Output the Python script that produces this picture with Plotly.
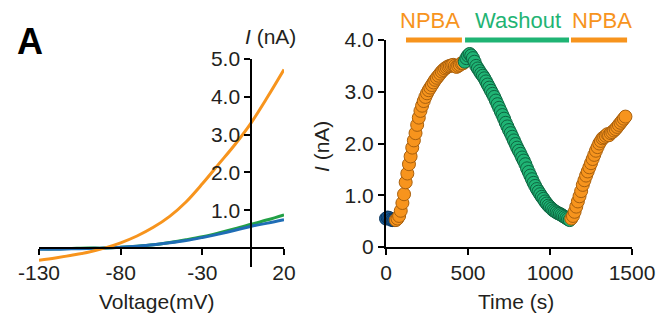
import plotly.graph_objects as go

# ---------------- Left panel: I-V curves ----------------
voltage_mv = [-130, -120, -110, -100, -90, -80, -70, -60, -50, -40, -30, -20, -10, 0, 10, 20]
iv_npba = [-0.32, -0.26, -0.19, -0.11, 0.0, 0.14, 0.32, 0.55, 0.84, 1.22, 1.70, 2.22, 2.74, 3.32, 4.0, 4.72]
iv_control = [-0.03, -0.03, -0.02, -0.01, 0.0, 0.02, 0.05, 0.09, 0.14, 0.2, 0.28, 0.37, 0.47, 0.58, 0.66, 0.75]
iv_washout = [-0.02, -0.02, -0.01, 0.0, 0.0, 0.02, 0.05, 0.09, 0.15, 0.22, 0.30, 0.40, 0.51, 0.63, 0.75, 0.88]
iv_xticks = [-130, -80, -30, 20]
iv_xticktext = ["-130", "-80", "-30", "20"]
iv_yticks = [1, 2, 3, 4, 5]
iv_yticktext = ["1.0", "2.0", "3.0", "4.0", "5.0"]

# ---------------- Right panel: time course ----------------
t_control = [0, 10, 20, 30, 40, 50]
i_control = [0.55, 0.57, 0.56, 0.53, 0.52, 0.52]

t_npba1 = [60, 70, 80, 90, 100, 110, 120, 130, 140, 150, 160, 170, 180, 190, 200,
           210, 220, 230, 240, 250, 260, 270, 280, 290, 300, 310, 320, 330, 340, 350,
           360, 370, 380, 390, 400, 410, 420, 430, 440, 450, 460, 470]
i_npba1 = [0.52, 0.55, 0.6, 0.7, 0.85, 1.02, 1.25, 1.42, 1.6, 1.75, 1.92, 2.06, 2.2, 2.36, 2.5,
           2.63, 2.73, 2.82, 2.9, 2.97, 3.03, 3.08, 3.13, 3.18, 3.23, 3.27, 3.31, 3.35, 3.39, 3.42,
           3.45, 3.47, 3.49, 3.5, 3.51, 3.52, 3.5, 3.48, 3.5, 3.52, 3.55, 3.55]

t_wash = [480, 490, 500, 510, 520, 530, 540, 550, 560, 570, 580, 590, 600, 610, 620,
          630, 640, 650, 660, 670, 680, 690, 700, 710, 720, 730, 740, 750, 760, 770,
          780, 790, 800, 810, 820, 830, 840, 850, 860, 870, 880, 890, 900, 910, 920,
          930, 940, 950, 960, 970, 980, 990, 1000, 1010, 1020, 1030, 1040, 1050, 1060,
          1070, 1080, 1090, 1100, 1110, 1120]
i_wash = [3.58, 3.65, 3.7, 3.73, 3.7, 3.65, 3.58, 3.5, 3.45, 3.4, 3.35, 3.31, 3.26, 3.2, 3.14,
          3.08, 3.02, 2.96, 2.9, 2.83, 2.76, 2.69, 2.62, 2.55, 2.48, 2.4, 2.33, 2.26, 2.2, 2.13,
          2.06, 1.99, 1.92, 1.86, 1.8, 1.73, 1.67, 1.6, 1.52, 1.45, 1.38, 1.31, 1.24, 1.18, 1.12,
          1.07, 1.02, 0.97, 0.93, 0.88, 0.84, 0.8, 0.77, 0.74, 0.71, 0.69, 0.67, 0.65, 0.64,
          0.62, 0.6, 0.58, 0.56, 0.54, 0.52]

t_npba2 = [1130, 1140, 1150, 1160, 1170, 1180, 1190, 1200, 1210, 1220, 1230, 1240, 1250,
           1260, 1270, 1280, 1290, 1300, 1310, 1320, 1330, 1340, 1350, 1360, 1370, 1380,
           1390, 1400, 1410, 1420, 1430, 1440, 1450, 1460]
i_npba2 = [0.55, 0.6, 0.68, 0.78, 0.88, 0.98, 1.08, 1.2, 1.29, 1.38, 1.46, 1.54, 1.62,
           1.7, 1.78, 1.86, 1.93, 2.0, 2.05, 2.1, 2.12, 2.15, 2.18, 2.16, 2.2, 2.22,
           2.25, 2.28, 2.32, 2.36, 2.4, 2.44, 2.48, 2.52]

tc_xticks = [0, 500, 1000, 1500]
tc_yticks = [0, 1, 2, 3, 4]
tc_yticktext = ["0", "1.0", "2.0", "3.0", "4.0"]

# application periods (start, end, label, colour key)
periods = [(122, 463, "NPBA", "orange"), (482, 1116, "Washout", "green"), (1128, 1470, "NPBA", "orange")]
period_label_x = [268, 805, 1317]

ORANGE = "#F7941D"
GREEN_L = "#22A046"
GREEN_M = "#1FB474"
BLUE = "#1F6DB5"
BLUE_M = "#1A5E9C"
TXT = "#231F20"
colors = {"orange": ORANGE, "green": GREEN_M}

FONT = "Liberation Sans, Arial, sans-serif"
W, H = 668, 329

def px_x(p):
    return p / W

def px_y(p):
    return 1 - p / H

fig = go.Figure()

# left panel traces
fig.add_trace(go.Scatter(x=voltage_mv, y=iv_washout, mode="lines", line=dict(color=GREEN_L, width=3, shape="spline"),
                         xaxis="x", yaxis="y", showlegend=False))
fig.add_trace(go.Scatter(x=voltage_mv, y=iv_control, mode="lines", line=dict(color=BLUE, width=3, shape="spline"),
                         xaxis="x", yaxis="y", showlegend=False))
fig.add_trace(go.Scatter(x=voltage_mv, y=iv_npba, mode="lines", line=dict(color=ORANGE, width=3, shape="spline"),
                         xaxis="x", yaxis="y", showlegend=False))

# right panel traces
def add_markers(t, i, fill, edge):
    fig.add_trace(go.Scatter(x=t, y=i, mode="markers", cliponaxis=False,
                             marker=dict(size=13, color=fill, line=dict(color=edge, width=1)),
                             xaxis="x2", yaxis="y2", showlegend=False))

add_markers(t_control, i_control, BLUE_M, "#0B365E")
add_markers(t_npba1, i_npba1, ORANGE, "#A8600E")
add_markers(t_wash, i_wash, GREEN_M, "#0D6440")
add_markers(t_npba2, i_npba2, ORANGE, "#A8600E")

# geometry
lx0, lx1 = px_x(39), px_x(284)
ly0, ly1 = px_y(267), px_y(59)
l_yrange = [-0.5, 5.0]
l_xrange = [-130, 20]
yaxis_pos = lx0 + (0 - l_xrange[0]) / (l_xrange[1] - l_xrange[0]) * (lx1 - lx0)
xaxis_pos = ly0 + (0 - l_yrange[0]) / (l_yrange[1] - l_yrange[0]) * (ly1 - ly0)

rx0, rx1 = px_x(386), px_x(632)
ry0, ry1 = px_y(247), px_y(40)

axis_common = dict(showgrid=False, zeroline=False, showline=True, linecolor="black", linewidth=2,
                   ticks="outside", ticklen=6, tickwidth=2, tickcolor="black", automargin=False,
                   tickfont=dict(family=FONT, size=21, color=TXT))

fig.update_layout(
    width=W, height=H, margin=dict(l=0, r=0, t=0, b=0, pad=0, autoexpand=False),
    paper_bgcolor="white", plot_bgcolor="rgba(0,0,0,0)",
    xaxis=dict(domain=[lx0, lx1], range=l_xrange, anchor="free", position=xaxis_pos,
               tickvals=iv_xticks, ticktext=iv_xticktext, **axis_common),
    yaxis=dict(domain=[ly0, ly1], range=l_yrange, anchor="free", position=yaxis_pos,
               tickvals=iv_yticks, ticktext=iv_yticktext, **axis_common),
    xaxis2=dict(domain=[rx0, rx1], range=[0, 1500], anchor="y2", tickvals=tc_xticks, **axis_common),
    yaxis2=dict(domain=[ry0, ry1], range=[0, 4], anchor="x2", tickvals=tc_yticks, ticktext=tc_yticktext,
                **axis_common),
)

shapes = []
annotations = []
for (s, e, lab, ck), lx in zip(periods, period_label_x):
    shapes.append(dict(type="line", xref="x2", yref="paper", x0=s, x1=e, y0=px_y(40), y1=px_y(40),
                       line=dict(color=colors[ck], width=5)))
    annotations.append(dict(xref="x2", yref="paper", x=lx, y=px_y(21), text=lab, showarrow=False,
                            font=dict(family=FONT, size=22, color=colors[ck]), xanchor="center", yanchor="middle"))

annotations += [
    dict(xref="paper", yref="paper", x=px_x(30), y=px_y(42), text="<b>A</b>", showarrow=False,
         font=dict(family=FONT, size=36, color="black"), xanchor="center", yanchor="middle"),
    dict(xref="paper", yref="paper", x=px_x(270), y=px_y(36), text="<i>I</i> (nA)", showarrow=False,
         font=dict(family=FONT, size=21, color=TXT), xanchor="center", yanchor="middle"),
    dict(xref="paper", yref="paper", x=px_x(157), y=px_y(301), text="Voltage(mV)", showarrow=False,
         font=dict(family=FONT, size=21, color=TXT), xanchor="center", yanchor="middle"),
    dict(xref="paper", yref="paper", x=px_x(321), y=px_y(147), text="<i>I</i> (nA)", showarrow=False,
         textangle=-90, font=dict(family=FONT, size=21, color=TXT), xanchor="center", yanchor="middle"),
    dict(xref="paper", yref="paper", x=px_x(516), y=px_y(301), text="Time (s)", showarrow=False,
         font=dict(family=FONT, size=21, color=TXT), xanchor="center", yanchor="middle"),
]

fig.update_layout(shapes=shapes, annotations=annotations)
fig.write_html("out.html")
